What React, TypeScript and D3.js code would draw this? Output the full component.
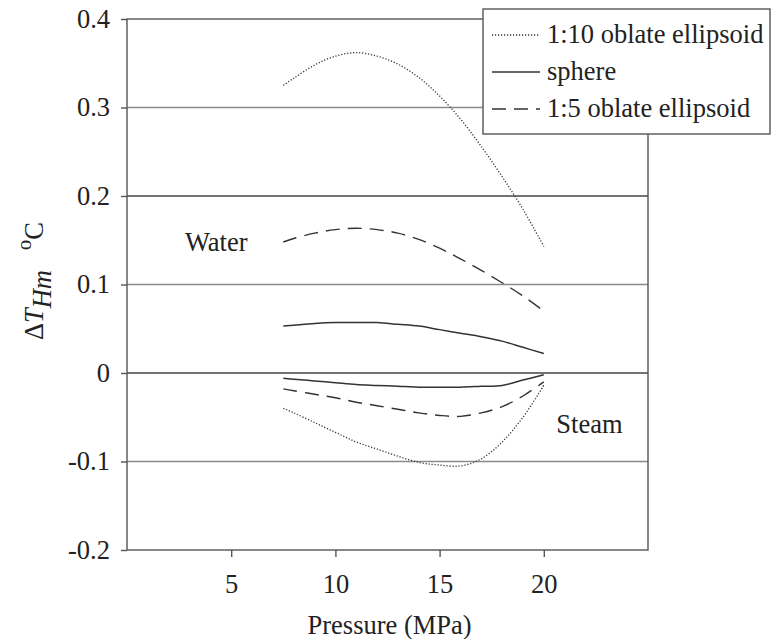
import React, { useRef, useEffect } from 'react';
import * as d3 from 'd3';

// pressure points (MPa)
const pressure = [7.5, 8, 9, 10, 11, 12, 13, 14, 15, 16, 17, 18, 19, 20];

// water side
const waterOblate10 = [0.325, 0.333, 0.348, 0.358, 0.362, 0.358, 0.349, 0.334, 0.313, 0.287, 0.256, 0.222, 0.185, 0.143];
const waterSphere = [0.053, 0.054, 0.056, 0.057, 0.057, 0.057, 0.055, 0.053, 0.049, 0.045, 0.041, 0.036, 0.029, 0.022];
const waterOblate5 = [0.148, 0.152, 0.158, 0.162, 0.1635, 0.162, 0.158, 0.151, 0.141, 0.129, 0.116, 0.102, 0.087, 0.070];

// steam side
const steamOblate10 = [-0.040, -0.045, -0.056, -0.067, -0.078, -0.086, -0.094, -0.101, -0.104, -0.105, -0.097, -0.078, -0.050, -0.014];
const steamSphere = [-0.006, -0.007, -0.009, -0.011, -0.013, -0.014, -0.015, -0.016, -0.016, -0.016, -0.015, -0.014, -0.008, -0.002];
const steamOblate5 = [-0.018, -0.020, -0.024, -0.028, -0.033, -0.037, -0.041, -0.045, -0.048, -0.049, -0.045, -0.038, -0.026, -0.010];

const xTicks = [5, 10, 15, 20];
const yTicks = [-0.2, -0.1, 0, 0.1, 0.2, 0.3, 0.4];
const yTickLabels = ['-0.2', '-0.1', '0', '0.1', '0.2', '0.3', '0.4'];
const legendLabels = ['1:10 oblate ellipsoid', 'sphere', '1:5 oblate ellipsoid'];

const FONT = "'Liberation Serif', 'DejaVu Serif', serif";
const FS = '26.5px';

const App = () => {
  const svgRef = useRef<SVGSVGElement>(null);

  useEffect(() => {
    const width = 774;
    const height = 639;
    const plot = { left: 127, right: 648, top: 19, bottom: 550 };

    const svg = d3.select(svgRef.current)
      .attr('width', width)
      .attr('height', height);
    svg.selectAll('*').remove();

    const x = d3.scaleLinear().domain([0, 25]).range([plot.left, plot.right]);
    const y = d3.scaleLinear().domain([-0.2, 0.4]).range([plot.bottom, plot.top]);

    svg.append('rect')
      .attr('width', width).attr('height', height).attr('fill', '#fff');

    // horizontal grid
    svg.append('g')
      .selectAll('line')
      .data(yTicks.slice(1, -1))
      .enter()
      .append('line')
      .attr('x1', plot.left).attr('x2', plot.right)
      .attr('y1', d => y(d)).attr('y2', d => y(d))
      .attr('stroke', d => (Math.abs(d) < 1e-9 || Math.abs(d - 0.2) < 1e-9) ? '#444' : '#8a8a8a')
      .attr('stroke-width', 1.4);

    // frame
    svg.append('rect')
      .attr('x', plot.left).attr('y', plot.top)
      .attr('width', plot.right - plot.left).attr('height', plot.bottom - plot.top)
      .attr('fill', 'none').attr('stroke', '#555').attr('stroke-width', 1.4);

    // y axis
    const yAxis = svg.append('g')
      .attr('transform', `translate(${plot.left},0)`)
      .call(d3.axisLeft(y).tickValues(yTicks).tickSize(6).tickPadding(11)
        .tickFormat((_, i) => yTickLabels[i]));
    yAxis.select('.domain').remove();
    yAxis.selectAll('line').attr('stroke', '#555').attr('stroke-width', 1.4);
    yAxis.selectAll('text')
      .style('font-family', FONT).style('font-size', FS).attr('fill', '#222');

    // x axis
    const xAxis = svg.append('g')
      .attr('transform', `translate(0,${plot.bottom})`)
      .call(d3.axisBottom(x).tickValues(xTicks).tickSize(7).tickPadding(17));
    xAxis.select('.domain').remove();
    xAxis.selectAll('line').attr('stroke', '#555').attr('stroke-width', 1.4);
    xAxis.selectAll('text')
      .style('font-family', FONT).style('font-size', FS).attr('fill', '#222');

    svg.append('text')
      .attr('x', x(12.6)).attr('y', 634)
      .attr('text-anchor', 'middle')
      .style('font-family', FONT).style('font-size', FS).attr('fill', '#222')
      .text('Pressure (MPa)');

    // y label
    const yl = svg.append('text')
      .attr('transform', 'translate(43,281) rotate(-90)')
      .attr('text-anchor', 'middle')
      .style('font-family', FONT).style('font-size', FS).attr('fill', '#222');
    yl.append('tspan').text('Δ');
    yl.append('tspan').style('font-style', 'italic').text('T');
    yl.append('tspan').style('font-style', 'italic').attr('dy', 8).text('Hm');
    yl.append('tspan').attr('dy', -8).text('\u00a0\u00a0\u00a0');
    yl.append('tspan').style('font-size', '21px').attr('dy', -12).text('o');
    yl.append('tspan').attr('dy', 12).text('C');

    const styles = [
      { dash: '1.2,1.8', width: 1.3 },
      { dash: null, width: 1.5 },
      { dash: '14,8', width: 1.4 },
    ];

    const series = [
      { values: waterOblate10, style: 0 },
      { values: waterSphere, style: 1 },
      { values: waterOblate5, style: 2 },
      { values: steamOblate10, style: 0 },
      { values: steamSphere, style: 1 },
      { values: steamOblate5, style: 2 },
    ];

    const line = d3.line<number>()
      .x((_, i) => x(pressure[i]))
      .y(d => y(d))
      .curve(d3.curveCatmullRom.alpha(0.5));

    svg.append('g')
      .selectAll('path')
      .data(series)
      .enter()
      .append('path')
      .attr('d', d => line(d.values))
      .attr('fill', 'none')
      .attr('stroke', '#333')
      .attr('stroke-width', d => styles[d.style].width)
      .attr('stroke-dasharray', d => styles[d.style].dash);

    // region labels
    svg.append('text')
      .attr('x', x(2.78)).attr('y', y(0.138))
      .style('font-family', FONT).style('font-size', FS).attr('fill', '#222')
      .text('Water');
    svg.append('text')
      .attr('x', x(20.6)).attr('y', y(-0.068))
      .style('font-family', FONT).style('font-size', FS).attr('fill', '#222')
      .text('Steam');

    // legend
    const lg = svg.append('g');
    lg.append('rect')
      .attr('x', 483).attr('y', 9).attr('width', 287).attr('height', 125)
      .attr('fill', '#fff').attr('stroke', '#555').attr('stroke-width', 1.4);
    legendLabels.forEach((label, i) => {
      const cy = 35 + i * 37;
      lg.append('line')
        .attr('x1', 492).attr('x2', 540).attr('y1', cy).attr('y2', cy)
        .attr('stroke', '#333')
        .attr('stroke-width', styles[i].width)
        .attr('stroke-dasharray', styles[i].dash);
      lg.append('text')
        .attr('x', 547).attr('y', cy + 8)
        .style('font-family', FONT).style('font-size', FS).attr('fill', '#222')
        .text(label);
    });
  }, []);

  return <svg ref={svgRef} style={{ position: 'absolute', left: 0, top: 0, display: 'block' }}></svg>;
};

export default App;
